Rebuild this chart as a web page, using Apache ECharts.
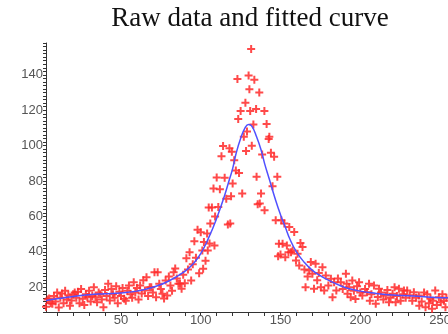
<!DOCTYPE html>
<html>
<head>
<meta charset="utf-8">
<script src="https://cdn.jsdelivr.net/npm/echarts@6/dist/echarts.min.js"></script>
<style>
  html, body { margin: 0; padding: 0; background: #fff; }
  #chart { width: 448px; height: 334px; }
</style>
</head>
<body>
<div id="chart"></div>
<script>
  var rawX = [3,4,5,6,7,8,9,10,11,12,13,14,15,16,17,18,19,20,21,22,23,24,25,26,27,28,29,30,
    31,32,33,34,35,36,37,38,39,40,41,42,43,44,45,46,47,48,49,50,51,52,53,54,55,56,57,58,59,60,
    61,62,63,64,65,66,67,68,69,70,71,72,73,74,75,76,77,78,79,80,81,82,83,84,85,86,87,88,89,90,
    91,92,93,94,95,96,97,98,99,100,101,101.5,102,103,104,104.4,105,105.5,106,107,108,108.6,109,110,
    111,112,113,114,115,116,117,118,118.5,119,119.5,120,121,122,123,123.5,124,125,126,127,128,128.4,
    129,130,130.5,131,131.6,132,133,133.6,134.7,135,135.7,136.7,137,137.8,138.5,139.9,140,141.3,142.6,143,
    144,145,146,147,148,148.5,149,150,150.5,151.3,152.4,153,154,155,155.5,156.6,157.6,158.6,159.7,160.7,
    161.75,162.5,163.8,165,165.7,167,168,169,170,171,172,173,174,175.3,176.3,177.4,178.4,180,181.6,182.6,
    183.6,185,186,187.8,189,191,191.5,192,193,194,195,196,197,198,199.25,200,201.3,203,204.2,205.5,
    206,207,208.6,209.7,211,211.75,213,214.5,216,217,218,219,220.25,221.5,222.2,223,224.25,225.3,226.5,227.4,
    228.5,229.4,231,232.6,233.6,235,236.75,237,238.5,240,240.9,242,243,244,245,245.5,247,248,249.25,250.5,
    251.5,252.4,253.4,254]
  var rawY = [9,13,13.6,11,10.7,15,12,17,8.5,14,16.5,11,18,13,15.5,9.6,12.5,16,17,14,17.5,11,19,13.5,10,16,14.5,18,
    12,15,20,14.3,11.5,17,16,13,8.7,18.5,15,22,12.5,19,16,14,20.5,11,17.5,15,19.5,13.5,12.4,18,21,16,14,22.8,17,19.5,
    13,21,16.5,24,18.1,25.7,15,20,20,17,28.5,14.3,28.5,22,19,16.3,13.6,23.8,15.3,26,21,18,28.5,30.6,25,21.9,22,19.1,27,22.3,
    36.4,30,39.8,23.8,33,46,36.7,52.5,27.9,51,40.8,30.4,45.5,35,50.3,40.8,65,44.7,56,65,75.8,43.6,60,82,
    65.3,75.4,94,99.8,81.8,70,55.5,98.5,56,71.4,96.5,78.6,91.8,86,137.6,115,84.6,119.6,73,105,124.3,97,
    108,139.6,131.9,119.6,154.6,100,112,137.2,120.7,82.4,66.9,130,67.3,73,95,119.6,63.5,112.2,103.7,105,
    96,77,93.7,57.8,82.4,37.5,44.6,38.5,57.8,44.6,56,37,43.6,39.8,54,39.8,40.8,51.2,35.1,38.9,
    32.3,45,42.7,30,20,26,29.5,34.2,27.6,19.1,33.3,24,28,20,31.3,18.1,26.6,21,24.8,14.3,
    22.8,18.1,25,22.8,19,27.6,21.9,16.3,20,14.3,23.8,18,13.4,20.5,22.8,17,15.3,19,17.1,21.9,
    12.4,16,21,10.6,14.5,19.1,17,13,15.3,18.5,11.5,14,16.3,20,11.5,15,19.1,12.4,16,18.1,
    14,18.1,15.5,12.4,17.2,14,15.3,9.6,12,17,8.7,16,11,13.5,7.8,12.4,18.1,10,14.3,11.5,
    16,12.4,8.7,14]

  // fitted curve
  var fitX = [3,10,20,30,40,50,60,70,80,90,95,100,105,110,115,118,120,122,125,128,130,132,135,138,140,
    143,147,150,153,156,160,165,170,175,180,190,200,210,220,230,240,250,255]
  var fitY = [12.5,13.5,14.8,15.8,16.3,16.8,17.8,20,23.5,29,33,39,48,59,72,81,87,95,104,110.5,112,111,105,97,90,
    81,69,61,54,47,40,34,29.5,26.5,24,20,17.8,16.5,15.6,15.2,14.6,14,14]

  var xLabels = [50, 100, 150, 200, 250]
  var yLabels = [20, 40, 60, 80, 100, 120, 140]

  var xTicks = []
  for (var t = 10; t <= 250; t += 10) xTicks.push(t)
  var yTicks = []
  for (var s = 6; s <= 158; s += 2) yTicks.push(s)

  var raw = rawX.map(function (x, i) { return [x, rawY[i]] })
  var fit = fitX.map(function (x, i) { return [x, fitY[i]] })

  var chart = echarts.init(document.getElementById('chart'))
  var option = {
    animation: false,
    graphic: [{
      type: 'text',
      x: 250,
      y: 5,
      style: {
        text: 'Raw data and fitted curve',
        font: '27px "Liberation Serif"',
        fill: '#111',
        align: 'center',
        verticalAlign: 'top',
      },
    }],
    grid: { left: 46, right: 0, top: 43, bottom: 22, outerBoundsMode: 'none' },
    xAxis: {
      type: 'value',
      min: 3,
      max: 255,
      name: 'x',
      nameLocation: 'middle',
      nameGap: 12,
      nameTextStyle: { color: '#666', fontSize: 12, fontFamily: 'Liberation Sans', verticalAlign: 'top' },
      axisLine: { lineStyle: { color: '#333', width: 1 } },
      axisTick: { customValues: xTicks, length: 4, lineStyle: { color: '#333' } },
      axisLabel: { customValues: xLabels, color: '#555', fontSize: 13, fontFamily: 'Liberation Sans', margin: 2 },
      splitLine: { show: false },
    },
    yAxis: {
      type: 'value',
      min: 6,
      max: 158,
      axisLine: { show: true, lineStyle: { color: '#333', width: 1 } },
      axisTick: { show: true, customValues: yTicks, length: 3, lineStyle: { color: '#333' } },
      axisLabel: { customValues: yLabels, color: '#555', fontSize: 13, fontFamily: 'Liberation Sans', margin: 3 },
      splitLine: { show: false },
    },
    series: [
      {
        type: 'scatter',
        data: raw,
        symbol: 'path://M3,0h2v3h3v2h-3v3h-2v-3h-3v-2h3z',
        symbolSize: 8,
        itemStyle: { color: '#ff2a2a', opacity: 0.85 },
        z: 2,
      },
      {
        type: 'line',
        data: fit,
        smooth: true,
        showSymbol: false,
        lineStyle: { color: '#5050ff', width: 1.5 },
        z: 3,
      },
    ],
  }
  chart.setOption(option)
</script>
</body>
</html>
